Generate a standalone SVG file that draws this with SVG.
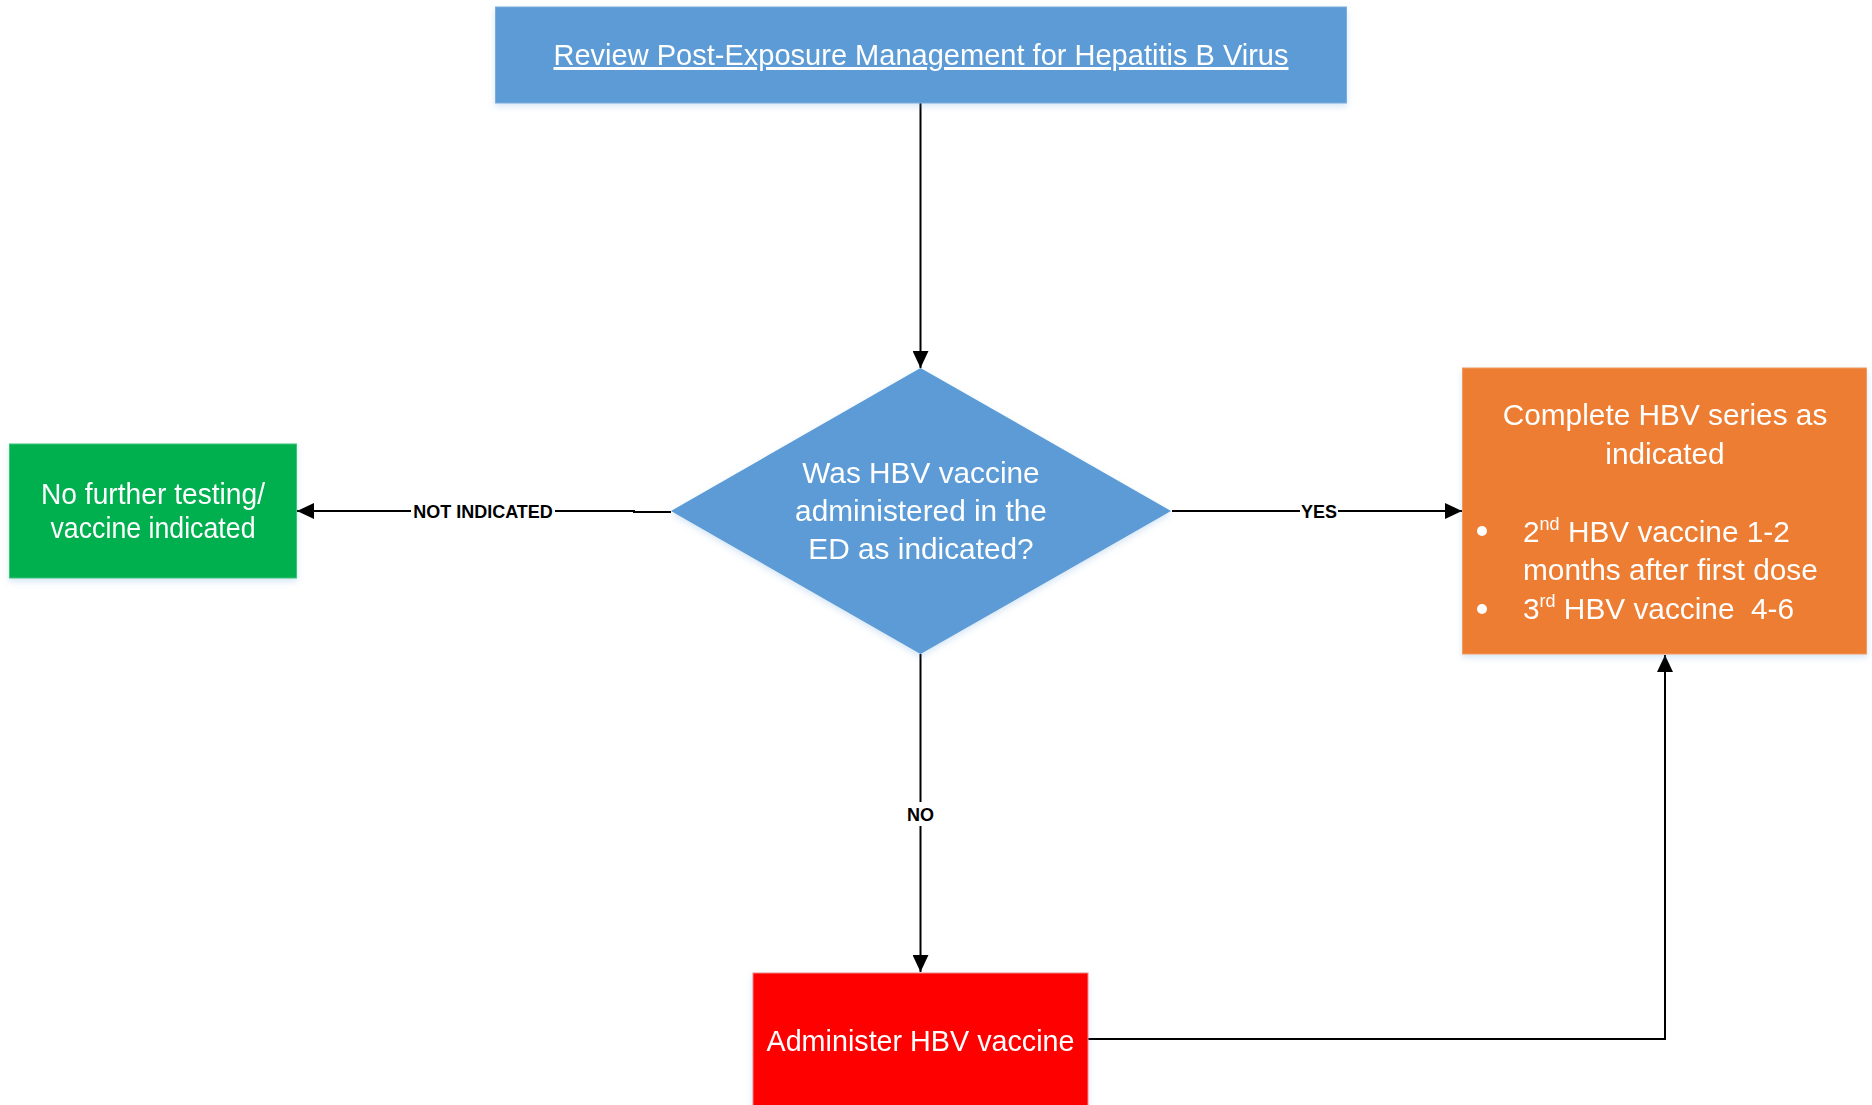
<svg xmlns="http://www.w3.org/2000/svg" width="1872" height="1105" viewBox="0 0 1872 1105">
<style>
.t{font-family:"Liberation Sans",Arial,sans-serif;fill:#fff;font-size:29.8px}
.lbl{font-family:"Liberation Sans",Arial,sans-serif;font-weight:bold;font-size:18px;fill:#000}
.ln{fill:none;stroke:#000;stroke-width:2}
.pre{white-space:pre}
</style>
<defs>
<marker id="arr" markerWidth="17" markerHeight="16" refX="17" refY="8" orient="auto" markerUnits="userSpaceOnUse">
<path d="M0,0 L17,8 L0,16 z" fill="#000"/>
</marker>
<filter id="sh" x="-5%" y="-5%" width="110%" height="115%">
<feDropShadow dx="0" dy="3" stdDeviation="3" flood-color="#5b9bd5" flood-opacity="0.25"/>
</filter>
</defs>
<rect width="1872" height="1105" fill="#fff"/>
<g id="connectors">
<line class="ln" x1="920.5" y1="103" x2="920.5" y2="368" marker-end="url(#arr)"/>
<path class="ln" d="M671,512 H634 V511 H297" marker-end="url(#arr)"/>
<line class="ln" x1="1172" y1="511" x2="1462" y2="511" marker-end="url(#arr)"/>
<line class="ln" x1="920.5" y1="654" x2="920.5" y2="972" marker-end="url(#arr)"/>
<path class="ln" d="M1088,1039 H1665 V655" marker-end="url(#arr)"/>
<rect x="411" y="500" width="144" height="22" fill="#fff"/>
<text class="lbl" x="483" y="517.5" text-anchor="middle">NOT INDICATED</text>
<rect x="1300" y="500" width="38" height="22" fill="#fff"/>
<text class="lbl" x="1319" y="517.5" text-anchor="middle">YES</text>
<rect x="905" y="802" width="31" height="24" fill="#fff"/>
<text class="lbl" x="920.5" y="820.5" text-anchor="middle">NO</text>
</g>
<g id="start" filter="url(#sh)">
<rect x="495.5" y="7" width="851" height="96" fill="#5b9bd5" stroke="#7aaede" stroke-width="1"/>
<text class="t" x="921" y="65" text-anchor="middle" font-size="29.5" text-decoration="underline" textLength="735" lengthAdjust="spacingAndGlyphs">Review Post-Exposure Management for Hepatitis B Virus</text>
</g>
<g id="decision" filter="url(#sh)">
<polygon points="920.5,368 1171,511 920.5,654 671,511" fill="#5b9bd5"/>
<text class="t" x="921" y="483" text-anchor="middle">Was HBV vaccine</text>
<text class="t" x="921" y="521" text-anchor="middle">administered in the</text>
<text class="t" x="921" y="559" text-anchor="middle">ED as indicated?</text>
</g>
<g id="not-indicated" filter="url(#sh)">
<rect x="9.5" y="444" width="287" height="134" fill="#00b050" stroke="#3cc577" stroke-width="1"/>
<text class="t" x="153" y="504" text-anchor="middle" font-size="27.5" textLength="224" lengthAdjust="spacingAndGlyphs">No further testing/</text>
<text class="t" x="153" y="538" text-anchor="middle" font-size="27.5" textLength="205" lengthAdjust="spacingAndGlyphs">vaccine indicated</text>
</g>
<g id="complete" filter="url(#sh)">
<rect x="1462.5" y="368" width="404" height="286" fill="#ed7d31" stroke="#f09a5e" stroke-width="1"/>
<text class="t" x="1665" y="425" text-anchor="middle">Complete HBV series as</text>
<text class="t" x="1665" y="464" text-anchor="middle">indicated</text>
<circle cx="1482" cy="531" r="5" fill="#fff"/>
<text class="t" x="1523" y="542">2<tspan font-size="18" dy="-12">nd</tspan><tspan dy="12"> HBV vaccine 1-2</tspan></text>
<text class="t" x="1523" y="580">months after first dose</text>
<circle cx="1482" cy="609" r="5" fill="#fff"/>
<text class="t pre" x="1523" y="619">3<tspan font-size="18" dy="-12">rd</tspan><tspan dy="12"> HBV vaccine  4-6</tspan></text>
</g>
<g id="administer" filter="url(#sh)">
<rect x="753" y="973" width="335" height="140" fill="#ff0000" stroke="#e88" stroke-width="1"/>
<text class="t" x="920.5" y="1051" text-anchor="middle" font-size="29.3" textLength="308" lengthAdjust="spacingAndGlyphs">Administer HBV vaccine</text>
</g>
</svg>
